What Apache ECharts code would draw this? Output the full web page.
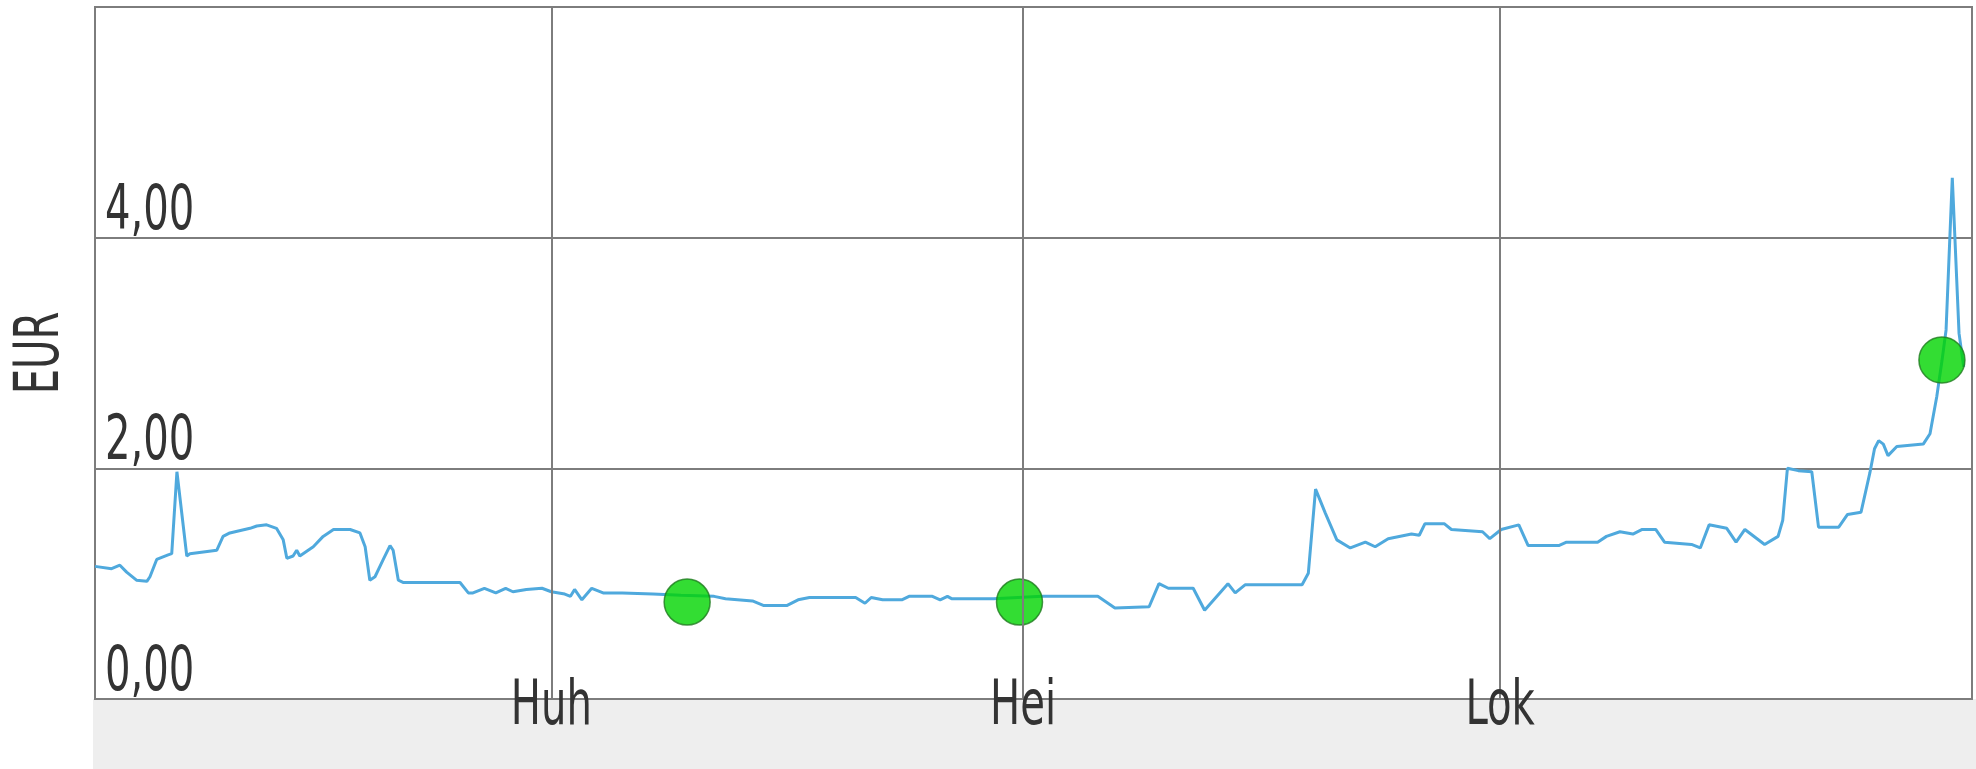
<!DOCTYPE html>
<html>
<head>
<meta charset="utf-8">
<script src="https://cdn.jsdelivr.net/npm/echarts@6/dist/echarts.min.js"></script>
<style>
  html, body { margin: 0; padding: 0; background: #ffffff; }
  #band { position: absolute; left: 93px; top: 699px; width: 1883px; height: 70px; background: #eeeeee; }
  #chart { position: absolute; left: 0; top: 0; width: 1976px; height: 769px; }
</style>
</head>
<body>
<div id="band"></div>
<div id="chart"></div>
<script>
// Days counted from the first day shown (3 Jan)
const dayOffsets = [0,3.2,4.8,6.1,8.0,10.0,10.6,11.9,14.1,14.8,
  15.8,17.7,18.3,23.5,24.7,26.0,29.9,31.2,33.1,35.0,
  36.3,37.0,38.2,38.9,39.5,42.1,44.0,46.0,49.2,51.1,
  52.1,53.0,54.0,55.6,56.9,57.5,58.5,59.5,70.4,72.0,
  72.9,75.1,77.3,79.2,80.6,83.2,86.2,88.0,90.6,91.7,
  92.5,93.9,95.8,98.0,101.7,107.6,113.0,119.4,121.6,126.8,
  129.0,133.4,135.6,137.8,146.7,148.5,149.7,151.9,155.6,157.0,
  161.5,163.0,164.4,165.2,173.3,178.0,182.7,193.4,196.7,203.3,
  205.2,207.0,211.8,214.0,218.5,219.9,221.8,232.8,234.0,235.4,
  237.3,239.5,242.1,245.0,246.9,249.4,253.9,255.4,256.5,260.2,
  261.6,267.6,269.0,271.2,274.6,276.4,282.3,283.8,289.8,291.5,
  294.1,296.6,298.4,301.0,302.7,307.9,309.6,311.3,314.7,316.5,
  318.2,322.0,324.6,325.5,326.4,328.5,331.1,332.4,336.3,338.0,
  340.6,342.3,343.2,344.0,344.9,345.8,347.5,352.6,353.9,355.2,
  356.2,357.0,358.2,359.5,360.4];
const prices = [1.15,1.13,1.16,1.10,1.03,1.02,1.06,1.21,1.25,1.26,
  1.97,1.24,1.26,1.29,1.41,1.44,1.48,1.50,1.51,1.48,
  1.38,1.22,1.24,1.29,1.24,1.32,1.41,1.47,1.47,1.44,
  1.32,1.03,1.06,1.21,1.33,1.29,1.03,1.01,1.01,0.92,
  0.92,0.96,0.92,0.96,0.93,0.95,0.96,0.93,0.91,0.89,
  0.95,0.86,0.96,0.92,0.92,0.91,0.90,0.89,0.87,0.85,
  0.81,0.81,0.86,0.88,0.88,0.83,0.88,0.86,0.86,0.89,
  0.89,0.86,0.89,0.87,0.87,0.88,0.89,0.89,0.79,0.80,
  1.00,0.96,0.96,0.77,1.00,0.92,0.99,0.99,1.09,1.82,
  1.61,1.38,1.31,1.36,1.32,1.39,1.43,1.42,1.52,1.52,
  1.47,1.45,1.39,1.47,1.51,1.33,1.33,1.36,1.36,1.41,
  1.45,1.43,1.47,1.47,1.36,1.34,1.31,1.51,1.48,1.36,
  1.47,1.34,1.41,1.55,2.00,1.98,1.97,1.49,1.49,1.60,
  1.62,1.96,2.17,2.24,2.21,2.11,2.19,2.21,2.30,2.62,
  2.93,3.20,4.52,3.17,2.88];

const markerDays = [114.2, 178.3, 356.2];
const markerPrices = [0.84, 0.84, 2.94];

const tickDays = [88, 179, 271];           // 1 Apr, 1 Jul, 1 Oct
const tickLabels = ['Huh', 'Hei', 'Lok'];
const yTicks = [0, 2, 4];
const yTickLabels = ['0,00', '2,00', '4,00'];
const yName = 'EUR';

const FONT_FAMILY = "'DejaVu Sans Condensed', 'Liberation Sans Narrow', sans-serif";
const FONT_SIZE = 62;
const SQUEEZE = 0.72;
const TEXT_COLOR = '#333333';
const GRID = '#7d7d7d';

const lineData = dayOffsets.map((d, i) => [d, prices[i]]);
const markerData = markerDays.map((d, i) => [d, markerPrices[i]]);

const chart = echarts.init(document.getElementById('chart'), null, { renderer: 'canvas' });
chart.setOption({
  backgroundColor: 'transparent',
  animation: false,
  grid: {
    left: 95, right: 4, top: 7, bottom: 70,
    show: true, borderColor: GRID, borderWidth: 2, backgroundColor: '#ffffff'
  },
  xAxis: {
    type: 'value', min: 0, max: 362,
    axisLine: { show: false },
    axisTick: { show: false },
    splitLine: { show: false },
    axisLabel: { show: false }
  },
  yAxis: {
    type: 'value', min: 0, max: 6, interval: 2,
    axisLine: { show: false },
    axisTick: { show: false },
    splitLine: { show: true, lineStyle: { color: GRID, width: 2 } },
    axisLabel: { show: false }
  },
  series: [
    {
      type: 'line',
      data: [],
      silent: true,
      z: 1,
      markLine: {
        silent: true,
        symbol: 'none',
        label: { show: false },
        lineStyle: { color: GRID, width: 2, type: 'solid' },
        data: tickDays.map(d => ({ xAxis: d }))
      }
    },
    {
      type: 'line',
      data: lineData,
      showSymbol: false,
      smooth: false,
      lineStyle: { color: '#4fa9dd', width: 3 },
      z: 3
    },
    {
      type: 'scatter',
      data: markerData,
      symbol: 'circle',
      symbolSize: 46,
      itemStyle: { color: '#00d400', borderColor: '#1f7a1f', borderWidth: 1.5 },
      z: 4
    }
  ]
});

// Axis texts, placed through the chart's own scales, drawn horizontally condensed
const px = (d) => chart.convertToPixel({ xAxisIndex: 0 }, d);
const py = (v) => chart.convertToPixel({ yAxisIndex: 0 }, v);
const plotLeft = px(0);
const plotBottom = py(0);
const plotMid = py(3);

function txt(text, x, y, align, rotation) {
  return {
    type: 'text', x: x, y: y, scaleX: SQUEEZE, rotation: rotation || 0, z: 10, silent: true,
    style: {
      text: text, fontFamily: FONT_FAMILY, fontSize: FONT_SIZE, fill: TEXT_COLOR,
      align: align, verticalAlign: 'middle'
    }
  };
}

const graphics = [];
yTicks.forEach((v, i) => graphics.push(txt(yTickLabels[i], plotLeft + 10, py(v) - 25, 'left')));
tickDays.forEach((d, i) => graphics.push(txt(tickLabels[i], px(d), plotBottom + 9, 'center')));
graphics.push(txt(yName, 42, plotMid, 'center', Math.PI / 2));

chart.setOption({ graphic: { elements: graphics } });
</script>
</body>
</html>
